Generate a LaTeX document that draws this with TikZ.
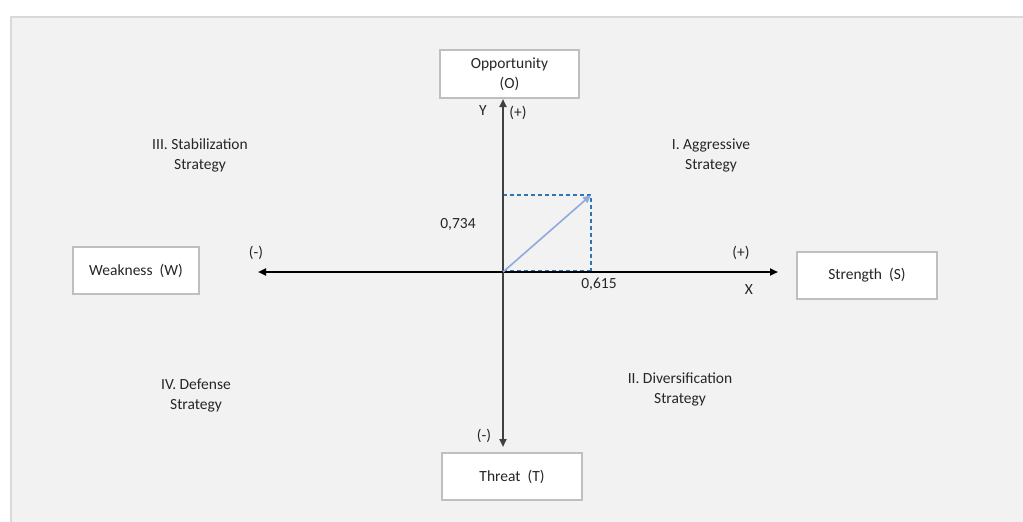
\documentclass[tikz,border=0pt]{standalone}
\usepackage{fontspec}
\setmainfont{Carlito}
\usetikzlibrary{arrows.meta}
\definecolor{panel}{HTML}{F2F2F2}
\definecolor{paneledge}{HTML}{D9D9D9}
\definecolor{boxedge}{HTML}{BFBFBF}
\definecolor{txt}{HTML}{262626}
\definecolor{vec}{HTML}{8FAADC}
\definecolor{dashblue}{HTML}{2E75B6}
\tikzset{
  lbl/.style={inner sep=0pt, align=center, text=txt, font=\fontsize{15.5}{20}\selectfont},
  boxnode/.style={lbl, draw=boxedge, line width=1.2pt, fill=white},
  axis/.style={line width=2pt, {Triangle[length=8pt,width=7pt]}-{Triangle[length=8pt,width=7pt]}},
  vecline/.style={vec, line width=1.6pt, -{Triangle[length=8pt,width=7pt]}},
  guide/.style={dashblue, line width=1.3pt, dash pattern=on 4pt off 3pt}
}
\begin{document}
\begin{tikzpicture}[x=1pt,y=-1pt]
\useasboundingbox (0,0) rectangle (1023,522);
\fill[white] (0,0) rectangle (1023,522);
\fill[panel] (10,16) rectangle (1023,522);
\draw[paneledge, line width=1.5pt] (10.75,522) -- (10.75,16.75) -- (1023,16.75);

% boxes
\node[boxnode, minimum width=139pt, minimum height=48pt] (opp) at (509.5,74) {Opportunity\\(O)};
\node[boxnode, minimum width=140pt, minimum height=47pt] (thr) at (512,476.5) {Threat\ \ (T)};
\node[boxnode, minimum width=140pt, minimum height=47pt] (str) at (867,275.5) {Strength\ \ (S)};
\node[boxnode, minimum width=126pt, minimum height=47pt] (weak) at (136,270.5) {Weakness\ \ (W)};

% axes
\coordinate (ytop) at (503,99);
\coordinate (ybot) at (503,447);
\coordinate (xleft) at (258,272);
\coordinate (xright) at (778,272);
\coordinate (orig) at (503,272);
\coordinate (vtip) at (591,195);
\coordinate (vx) at (591,272);
\coordinate (vy) at (503,195);

\draw[guide] (vy) -- (vtip) -- (vx);
\draw[guide] ([yshift=1pt]orig) -- ([yshift=1pt]vx);
\draw[axis, draw=black!75, fill=black!75] (ybot) -- (ytop);
\draw[axis, draw=black, fill=black] (xleft) -- (xright);
\draw[vecline, fill=vec] (orig) -- (vtip);

% axis labels
\node[lbl] (ylab) at (483,111) {Y};
\node[lbl] (yplus) at (518,113) {(+)};
\node[lbl] (yminus) at (484,436) {(-)};
\node[lbl] (xminus) at (256,253) {(-)};
\node[lbl] (xplus) at (741,253) {(+)};
\node[lbl] (xlab) at (749,290) {X};
\node[lbl] (valy) at (458,224) {0,734};
\node[lbl] (valx) at (599,284) {0,615};

% quadrants
\node[lbl] (q3) at (200,155) {III. Stabilization\\Strategy};
\node[lbl] (q1) at (711,155) {I. Aggressive\\Strategy};
\node[lbl] (q4) at (196,396) {IV. Defense\\Strategy};
\node[lbl] (q2) at (680,389.5) {II. Diversification\\Strategy};
\end{tikzpicture}
\end{document}
